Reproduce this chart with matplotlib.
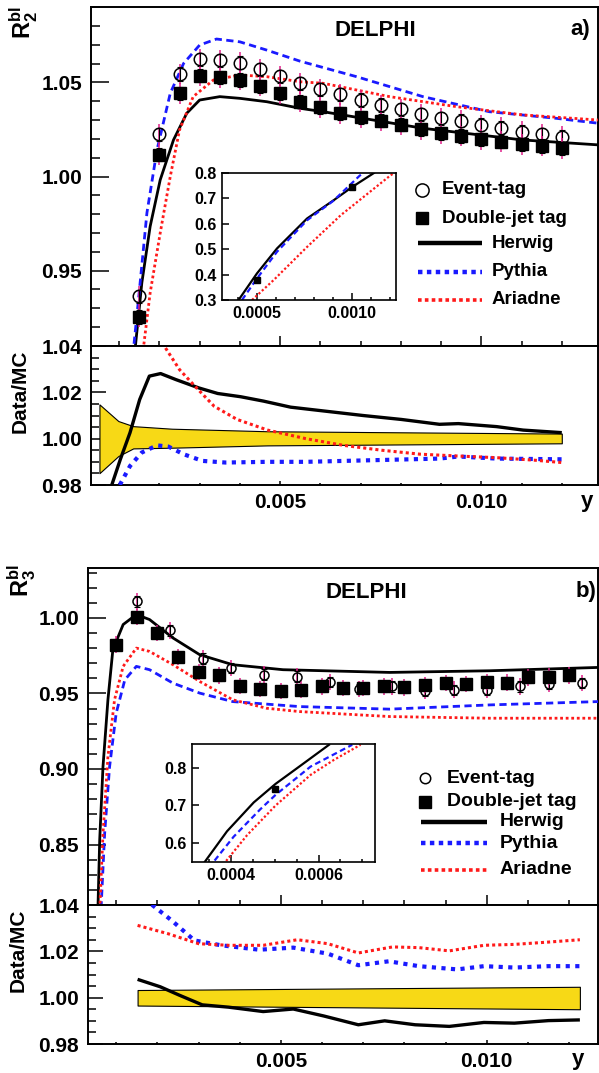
import matplotlib
matplotlib.use('Agg')
import matplotlib.pyplot as plt
from matplotlib.lines import Line2D
from matplotlib.ticker import MultipleLocator, FixedLocator, FormatStrFormatter

plt.rcParams['font.family'] = ['Liberation Sans', 'DejaVu Sans']
plt.rcParams['font.weight'] = 'bold'
plt.rcParams['mathtext.fontset'] = 'custom'
plt.rcParams['mathtext.bf'] = 'Liberation Sans:bold'
plt.rcParams['mathtext.rm'] = 'Liberation Sans:bold'

# ---------------- panel a) R2 ----------------
ya_pts = [0.0015, 0.002, 0.0025, 0.003, 0.0035, 0.004, 0.0045, 0.005, 0.0055, 0.006, 0.0065,
          0.007, 0.0075, 0.008, 0.0085, 0.009, 0.0095, 0.010, 0.0105, 0.011, 0.0115, 0.012]
evt_a = [0.9364, 1.0224, 1.0544, 1.0623, 1.0618, 1.0604, 1.057, 1.0533, 1.0495, 1.0463, 1.0436,
         1.0406, 1.038, 1.0357, 1.033, 1.0309, 1.0296, 1.0274, 1.026, 1.0238, 1.0224, 1.0212]
dbl_a = [0.9254, 1.0115, 1.0442, 1.0535, 1.0526, 1.0512, 1.048, 1.0442, 1.0397, 1.0367, 1.0336,
         1.0315, 1.0296, 1.0274, 1.0251, 1.023, 1.0215, 1.0198, 1.0185, 1.0171, 1.0162, 1.015]

herwig_a_x = [0.00138, 0.001563, 0.00177, 0.00202, 0.00235, 0.00268, 0.003, 0.0035, 0.004,
              0.00467, 0.0055, 0.00607, 0.00855, 0.01103, 0.0129]
herwig_a_y = [0.905, 0.9435, 0.9735, 0.9982, 1.0194, 1.0336, 1.0406, 1.0424, 1.0415,
              1.0397, 1.0362, 1.0344, 1.0256, 1.0194, 1.0168]
pythia_a_x = [0.00134, 0.00148, 0.00169, 0.00194, 0.00227, 0.0026, 0.003, 0.00342, 0.004,
              0.00467, 0.0055, 0.0069, 0.00855, 0.0102, 0.01186, 0.0129]
pythia_a_y = [0.905, 0.9346, 0.9807, 1.0141, 1.0442, 1.06, 1.0698, 1.073, 1.0715,
              1.0671, 1.0612, 1.053, 1.0424, 1.0344, 1.0309, 1.0283]
ariadne_a_x = [0.00158, 0.00177, 0.00202, 0.00227, 0.0025, 0.00284, 0.00334, 0.004, 0.00467,
               0.0055, 0.00607, 0.00772, 0.00938, 0.01103, 0.0129]
ariadne_a_y = [0.905, 0.9382, 0.970, 1.0, 1.0247, 1.0424, 1.0512, 1.0539, 1.053,
               1.0503, 1.0495, 1.0424, 1.0371, 1.0327, 1.03]

# inset a
ins_a_herwig_x = [0.000403, 0.0005, 0.000605, 0.000763, 0.000903, 0.001, 0.001114]
ins_a_herwig_y = [0.3, 0.405, 0.503, 0.621, 0.693, 0.745, 0.8]
ins_a_pythia_x = [0.000421, 0.0005, 0.000605, 0.000763, 0.0009, 0.00104, 0.00106]
ins_a_pythia_y = [0.3, 0.385, 0.49, 0.614, 0.69, 0.79, 0.8]
ins_a_ariadne_x = [0.000474, 0.000588, 0.000763, 0.00094, 0.00106, 0.0012, 0.00124]
ins_a_ariadne_y = [0.3, 0.379, 0.509, 0.634, 0.706, 0.79, 0.81]
ins_a_data_x = [0.0005, 0.001]
ins_a_data_y = [0.379, 0.745]

# ratio a
band_a_x = [0.00051, 0.00098, 0.00135, 0.00231, 0.00469, 0.012]
band_a_hi = [1.0148, 1.0076, 1.0054, 1.0043, 1.0032, 1.0022]
band_a_lo = [0.9851, 0.9925, 0.9958, 0.9961, 0.9971, 0.998]
r_herwig_a_x = [0.000816, 0.00103, 0.00127, 0.00151, 0.00175, 0.00203, 0.00241, 0.00298, 0.00345,
                0.00402, 0.00459, 0.00526, 0.00611, 0.00706, 0.00801, 0.00896, 0.00943, 0.01038,
                0.01104, 0.012]
r_herwig_a_y = [0.98, 0.9911, 1.0026, 1.0169, 1.027, 1.0281, 1.0255, 1.0219, 1.0195,
                1.0181, 1.0162, 1.0136, 1.0119, 1.01, 1.0083, 1.0062, 1.0065, 1.0052,
                1.0037, 1.0026]
r_pythia_a_x = [0.001015, 0.00127, 0.00156, 0.00194, 0.00222, 0.0026, 0.00307, 0.00364, 0.00469,
                0.00564, 0.00753, 0.00896, 0.00943, 0.01038, 0.012]
r_pythia_a_y = [0.98, 0.9882, 0.994, 0.9971, 0.9966, 0.9933, 0.9904, 0.9897, 0.99,
                0.99, 0.9908, 0.9914, 0.9923, 0.9914, 0.9911]
r_ariadne_a_x = [0.0018, 0.00212, 0.0025, 0.00288, 0.00336, 0.00393, 0.00469, 0.00564, 0.00658,
                 0.00753, 0.00848, 0.00943, 0.01038, 0.01133, 0.012]
r_ariadne_a_y = [1.062, 1.040, 1.0298, 1.0227, 1.014, 1.0083, 1.0037, 1.0, 0.9971,
                 0.995, 0.9933, 0.9925, 0.9918, 0.9907, 0.9897]

# ---------------- panel b) R3 ----------------
dbl_b_x = [0.001, 0.0015, 0.002, 0.0025, 0.003, 0.0035, 0.004, 0.0045, 0.005, 0.0055, 0.006,
           0.0065, 0.007, 0.0075, 0.008, 0.0085, 0.009, 0.0095, 0.010, 0.0105, 0.011, 0.0115, 0.012]
dbl_b = [0.9823, 1.0007, 0.99, 0.9741, 0.9641, 0.9619, 0.955, 0.9529, 0.9517, 0.9524, 0.9546,
         0.9535, 0.9535, 0.9546, 0.954, 0.9557, 0.9568, 0.9562, 0.9575, 0.9572, 0.9606, 0.9612, 0.9619]
evt_b_x = [0.0015, 0.0023, 0.0031, 0.0038, 0.0046, 0.0054, 0.0062, 0.0069, 0.0077, 0.0085,
           0.0092, 0.010, 0.0108, 0.0115, 0.0123]
evt_b = [1.011, 0.9918, 0.973, 0.9668, 0.9624, 0.9612, 0.9575, 0.9529, 0.9546, 0.9517,
         0.9524, 0.9524, 0.9546, 0.9564, 0.9568]

herwig_b_x = [0.00055, 0.0006, 0.00068, 0.0008, 0.00092, 0.00117, 0.00149, 0.00181, 0.00238,
              0.00303, 0.00383, 0.00505, 0.00764, 0.01007, 0.0127]
herwig_b_y = [0.80, 0.853, 0.9015, 0.9458, 0.979, 0.9956, 1.0022, 0.9989, 0.9867,
              0.9756, 0.969, 0.9657, 0.9639, 0.965, 0.9672]
pythia_b_x = [0.00062, 0.00072, 0.00084, 0.001, 0.00121, 0.00149, 0.00181, 0.00238, 0.00303,
              0.00383, 0.00545, 0.00764, 0.01007, 0.0127]
pythia_b_y = [0.80, 0.8572, 0.9015, 0.9369, 0.959, 0.9679, 0.9657, 0.9568, 0.9502,
              0.9446, 0.9413, 0.9396, 0.9424, 0.9446]
ariadne_b_x = [0.00059, 0.00068, 0.0008, 0.00096, 0.00117, 0.00149, 0.00181, 0.00238, 0.00303,
               0.00383, 0.00465, 0.00545, 0.00764, 0.01007, 0.0127]
ariadne_b_y = [0.80, 0.8572, 0.9081, 0.9458, 0.9679, 0.98, 0.9778, 0.969, 0.9579,
               0.9458, 0.9402, 0.938, 0.9347, 0.9336, 0.9336]

# inset b
ins_b_herwig_x = [0.00033, 0.00034, 0.000391, 0.000452, 0.000502, 0.000559, 0.000624]
ins_b_herwig_y = [0.532, 0.551, 0.632, 0.708, 0.757, 0.805, 0.86]
ins_b_pythia_x = [0.00035, 0.00036, 0.000406, 0.000467, 0.000502, 0.000582, 0.000677]
ins_b_pythia_y = [0.535, 0.551, 0.6175, 0.690, 0.728, 0.8026, 0.86]
ins_b_ariadne_x = [0.000377, 0.000387, 0.000437, 0.000502, 0.000582, 0.000635, 0.000696]
ins_b_ariadne_y = [0.535, 0.551, 0.622, 0.70, 0.7807, 0.82, 0.86]
ins_b_data_x = [0.0005]
ins_b_data_y = [0.7437]

# ratio b
band_b_x = [0.00152, 0.01226]
band_b_hi = [1.0033, 1.0047]
band_b_lo = [0.9966, 0.995]
r_herwig_b_x = [0.00152, 0.00207, 0.00253, 0.00309, 0.00373, 0.00457, 0.0053, 0.00604, 0.00688,
                0.00752, 0.00826, 0.00909, 0.00993, 0.01067, 0.0115, 0.01226]
r_herwig_b_y = [1.0079, 1.0047, 1.0011, 0.9969, 0.9959, 0.994, 0.9951, 0.9921, 0.9883,
                0.99, 0.9883, 0.9876, 0.9893, 0.989, 0.9901, 0.9904]
r_pythia_b_x = [0.0017, 0.00189, 0.00235, 0.0029, 0.00355, 0.00447, 0.0053, 0.00614, 0.00688,
                0.00762, 0.00835, 0.00928, 0.00993, 0.01067, 0.0115, 0.01226]
r_pythia_b_y = [1.043, 1.0398, 1.0333, 1.0247, 1.0226, 1.0207, 1.0216, 1.019, 1.014,
                1.0157, 1.0136, 1.0122, 1.0136, 1.013, 1.0136, 1.0136]
r_ariadne_b_x = [0.00152, 0.00226, 0.003, 0.00373, 0.00457, 0.0054, 0.00614, 0.00688, 0.00771,
                 0.00835, 0.00909, 0.00993, 0.01067, 0.0115, 0.01226]
r_ariadne_b_y = [1.0312, 1.0276, 1.0233, 1.0226, 1.0226, 1.025, 1.0233, 1.0193, 1.0219,
                 1.0216, 1.0202, 1.0226, 1.023, 1.024, 1.025]

# ---------------- layout helpers ----------------
W, H = 599, 1073
PINK = '#e0208a'
GOLD = '#f7d916'


def box(l, t, r, b):
    return [l / W, 1 - b / H, (r - l) / W, (b - t) / H]


def fxy(px, py):
    return px / W, 1 - py / H


fig = plt.figure(figsize=(W / 100, H / 100), dpi=100)


def frame(ax, lw=1.4):
    for s in ax.spines.values():
        s.set_linewidth(lw)
    ax.tick_params(which='both', direction='in', top=False, right=False, width=1.1,
                   labelsize=15, colors='black')


def main_panel(ax, xlim, ylim):
    frame(ax)
    ax.set_xlim(*xlim)
    ax.set_ylim(*ylim)
    ax.xaxis.set_major_locator(MultipleLocator(0.005))
    ax.xaxis.set_minor_locator(MultipleLocator(0.001))
    ax.yaxis.set_major_locator(MultipleLocator(0.05))
    ax.yaxis.set_minor_locator(MultipleLocator(0.01))
    ax.yaxis.set_major_formatter(FormatStrFormatter('%.2f'))
    ax.tick_params(axis='x', which='major', length=7, labelbottom=False)
    ax.tick_params(axis='x', which='minor', length=3.6)
    ax.tick_params(axis='y', which='major', length=12.7, pad=6.5)
    ax.tick_params(axis='y', which='minor', length=6.5)


def ratio_panel(ax, xlim):
    frame(ax)
    ax.set_xlim(*xlim)
    ax.set_ylim(0.98, 1.04)
    ax.xaxis.set_major_locator(MultipleLocator(0.005))
    ax.xaxis.set_minor_locator(MultipleLocator(0.001))
    ax.xaxis.set_major_formatter(FormatStrFormatter('%.3f'))
    ax.yaxis.set_major_locator(MultipleLocator(0.02))
    ax.yaxis.set_minor_locator(MultipleLocator(0.005))
    ax.yaxis.set_major_formatter(FormatStrFormatter('%.2f'))
    ax.tick_params(axis='x', which='major', length=3, pad=6)
    ax.tick_params(axis='x', which='minor', length=1.5)
    ax.tick_params(axis='y', which='major', length=11, pad=6.5)
    ax.tick_params(axis='y', which='minor', length=6)


def data_points(ax, ex, ey, dx, dy, ms_c, ms_s):
    for x, y in ((ex, ey), (dx, dy)):
        ax.errorbar(x, y, yerr=0.0055, fmt='none', ecolor=PINK, elinewidth=1.1, capsize=0, zorder=4)
        ax.errorbar(x, y, yerr=0.0035, fmt='none', ecolor='black', elinewidth=0.8,
                    capsize=2.2, capthick=0.8, zorder=4)
    ax.plot(ex, ey, 'o', mfc='none', mec='black', mew=1.1, ms=ms_c, zorder=5)
    ax.plot(dx, dy, 's', color='black', ms=ms_s, zorder=5)


def mc_lines(ax, hx, hy, px, py, axx, ay, lw=2.0):
    ax.plot(hx, hy, color='black', lw=lw, solid_capstyle='butt', solid_joinstyle='round', zorder=3)
    ax.plot(px, py, color='#1a1aff', lw=lw, ls=(0, (2.6, 1.6)), zorder=3)
    ax.plot(axx, ay, color='#ff1a1a', lw=lw, ls=(0, (1, 1)), zorder=3)


def ratio_lines(ax, hx, hy, px, py, axx, ay):
    ax.plot(hx, hy, color='black', lw=2.4, solid_capstyle='butt', solid_joinstyle='round', zorder=3)
    ax.plot(px, py, color='#1a1aff', lw=3.0, ls=(0, (1, 1.3)), zorder=3)
    ax.plot(axx, ay, color='#ff1a1a', lw=2.2, ls=(0, (1, 1)), zorder=3)


def inset(ax, xlim, ylim, xticks, xminor, yticks, hx, hy, px, py, axx, ay, dx, dy):
    frame(ax, lw=1.2)
    ax.set_xlim(*xlim)
    ax.set_ylim(*ylim)
    ax.xaxis.set_major_locator(FixedLocator(xticks))
    ax.xaxis.set_minor_locator(MultipleLocator(xminor))
    ax.xaxis.set_major_formatter(FormatStrFormatter('%.4f'))
    ax.yaxis.set_major_locator(FixedLocator(yticks))
    ax.yaxis.set_major_formatter(FormatStrFormatter('%.1f'))
    ax.tick_params(which='both', labelsize=11.5, pad=4)
    ax.tick_params(which='major', length=5)
    ax.tick_params(which='minor', length=2.5)
    ax.plot(hx, hy, color='black', lw=1.6, solid_joinstyle='round')
    ax.plot(px, py, color='#1a1aff', lw=1.6, ls=(0, (2.6, 1.6)))
    ax.plot(axx, ay, color='#ff1a1a', lw=1.6, ls=(0, (1, 1)))
    ax.plot(dx, dy, 's', color='black', ms=5)


def legend(x_mark, x_text_m, x_line_end, x_text_l, rows, ms_c, ms_s, fs):
    entries = [('Event-tag', 'circle'), ('Double-jet tag', 'square'),
               ('Herwig', 'herwig'), ('Pythia', 'pythia'), ('Ariadne', 'ariadne')]
    for (label, kind), ry in zip(entries, rows):
        yy = 1 - ry / H
        if kind == 'circle':
            fig.add_artist(Line2D([x_mark / W], [yy], marker='o', mfc='none', mec='black',
                                  mew=1.1, ms=ms_c, transform=fig.transFigure))
            fig.text(x_text_m / W, yy, label, fontsize=fs, va='center', ha='left')
        elif kind == 'square':
            fig.add_artist(Line2D([x_mark / W], [yy], marker='s', color='black', ms=ms_s,
                                  transform=fig.transFigure))
            fig.text(x_text_m / W, yy, label, fontsize=fs, va='center', ha='left')
        else:
            style = {'herwig': dict(color='black', lw=3.2, solid_capstyle='butt'),
                     'pythia': dict(color='#1a1aff', lw=3.2, ls=(0, (1, 1))),
                     'ariadne': dict(color='#ff1a1a', lw=2.6, ls=(0, (1, 0.9)))}[kind]
            fig.add_artist(Line2D([(x_mark - 4) / W, x_line_end / W], [yy, yy],
                                  transform=fig.transFigure, **style))
            fig.text(x_text_l / W, yy, label, fontsize=fs, va='center', ha='left')


# ---------------- panel a ----------------
ax1 = fig.add_axes(box(91, 7, 598, 346))
main_panel(ax1, (0.0003, 0.0129), (0.91, 1.09))
mc_lines(ax1, herwig_a_x, herwig_a_y, pythia_a_x, pythia_a_y, ariadne_a_x, ariadne_a_y)
data_points(ax1, ya_pts, evt_a, ya_pts, dbl_a, 9, 9)

ax1r = fig.add_axes(box(91, 346, 598, 485))
ratio_panel(ax1r, (0.0003, 0.0129))
ax1r.fill_between(band_a_x, band_a_lo, band_a_hi, facecolor=GOLD, edgecolor='black', lw=0.8, zorder=2)
ratio_lines(ax1r, r_herwig_a_x, r_herwig_a_y, r_pythia_a_x, r_pythia_a_y, r_ariadne_a_x, r_ariadne_a_y)

in1 = fig.add_axes(box(222, 173, 396, 300))
inset(in1, (0.000316, 0.00123), (0.3, 0.8), [0.0005, 0.001], 0.0001, [0.3, 0.4, 0.5, 0.6, 0.7, 0.8],
      ins_a_herwig_x, ins_a_herwig_y, ins_a_pythia_x, ins_a_pythia_y,
      ins_a_ariadne_x, ins_a_ariadne_y, ins_a_data_x, ins_a_data_y)

fig.text(*fxy(375, 30), 'DELPHI', fontsize=16, ha='center', va='center')
fig.text(*fxy(590, 30), 'a)', fontsize=16, ha='right', va='center')
fig.text(*fxy(24, 6), r'$\mathbf{R^{bl}_2}$', fontsize=17, rotation=90, ha='center', va='top')
fig.text(*fxy(20, 391), 'Data/MC', fontsize=15, rotation=90, ha='center', va='center')
fig.text(*fxy(587, 502), 'y', fontsize=16, ha='center', va='center')
legend(421.7, 441.7, 481.7, 491.7, [190, 218.3, 243.3, 271.7, 300], 9.5, 9, 13.5)

# ---------------- panel b ----------------
ax2 = fig.add_axes(box(88, 568, 598, 905))
main_panel(ax2, (0.000316, 0.0127), (0.81, 1.033))
mc_lines(ax2, herwig_b_x, herwig_b_y, pythia_b_x, pythia_b_y, ariadne_b_x, ariadne_b_y)
data_points(ax2, evt_b_x, evt_b, dbl_b_x, dbl_b, 6.5, 8)

ax2r = fig.add_axes(box(88, 905, 598, 1044))
ratio_panel(ax2r, (0.000316, 0.0127))
ax2r.fill_between(band_b_x, band_b_lo, band_b_hi, facecolor=GOLD, edgecolor='black', lw=0.8, zorder=2)
ratio_lines(ax2r, r_herwig_b_x, r_herwig_b_y, r_pythia_b_x, r_pythia_b_y, r_ariadne_b_x, r_ariadne_b_y)

in2 = fig.add_axes(box(192, 744, 375, 862))
inset(in2, (0.000311, 0.000729), (0.551, 0.862), [0.0004, 0.0006], 0.00005, [0.6, 0.7, 0.8],
      ins_b_herwig_x, ins_b_herwig_y, ins_b_pythia_x, ins_b_pythia_y,
      ins_b_ariadne_x, ins_b_ariadne_y, ins_b_data_x, ins_b_data_y)

fig.text(*fxy(366, 592), 'DELPHI', fontsize=16, ha='center', va='center')
fig.text(*fxy(596, 592), 'b)', fontsize=16, ha='right', va='center')
fig.text(*fxy(22, 564), r'$\mathbf{R^{bl}_3}$', fontsize=17, rotation=90, ha='center', va='top')
fig.text(*fxy(18, 950), 'Data/MC', fontsize=15, rotation=90, ha='center', va='center')
fig.text(*fxy(578, 1059), 'y', fontsize=16, ha='center', va='center')
legend(425, 446.7, 486.7, 500, [778.3, 801.7, 821.7, 843.3, 870], 7.5, 8, 14)

fig.savefig('out.png', dpi=100)
